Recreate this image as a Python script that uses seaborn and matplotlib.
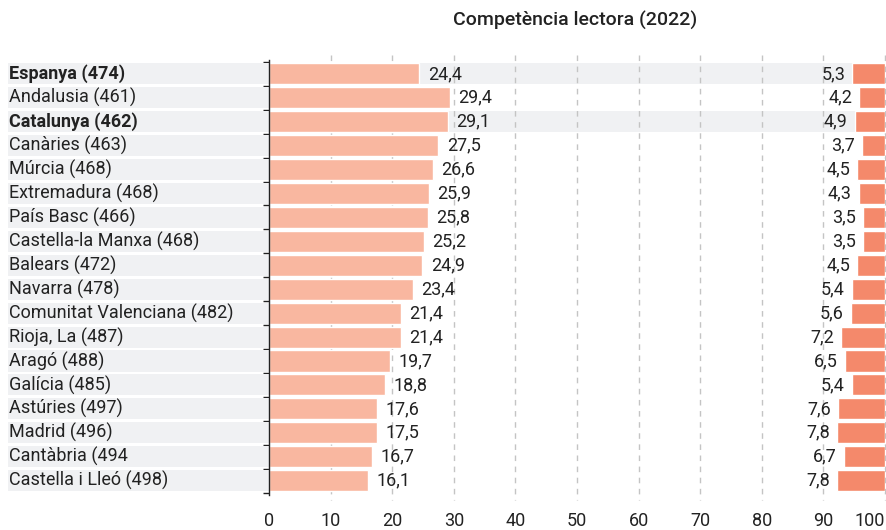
import matplotlib
matplotlib.use("Agg")
import matplotlib.pyplot as plt
import matplotlib.transforms as mtransforms
from matplotlib.patches import Rectangle
import seaborn as sns
import pandas as pd

regions = ["Espanya (474)", "Andalusia (461)", "Catalunya (462)", "Canàries (463)",
           "Múrcia (468)", "Extremadura (468)", "País Basc (466)", "Castella-la Manxa (468)",
           "Balears (472)", "Navarra (478)", "Comunitat Valenciana (482)", "Rioja, La (487)",
           "Aragó (488)", "Galícia (485)", "Astúries (497)", "Madrid (496)",
           "Cantàbria (494", "Castella i Lleó (498)"]
low_values = [24.4, 29.4, 29.1, 27.5, 26.6, 25.9, 25.8, 25.2, 24.9, 23.4, 21.4, 21.4,
              19.7, 18.8, 17.6, 17.5, 16.7, 16.1]
high_values = [5.3, 4.2, 4.9, 3.7, 4.5, 4.3, 3.5, 3.5, 4.5, 5.4, 5.6, 7.2,
               6.5, 5.4, 7.6, 7.8, 6.7, 7.8]
highlighted = ["Espanya (474)", "Catalunya (462)"]
x_ticks = [0, 10, 20, 30, 40, 50, 60, 70, 80, 90, 100]
title = "Competència lectora (2022)"

sns.set_theme(style="white")
plt.rcParams["font.family"] = ["Roboto", "DejaVu Sans"]

LIGHT = "#f9b7a0"
DARK = "#f4896b"
BAND = "#f0f1f3"
TXT = "#222222"
FS = 13

df = pd.DataFrame({"region": regions, "low": low_values, "high": high_values})

fig = plt.figure(figsize=(8.86, 5.3), dpi=100)
ax = fig.add_axes([269 / 886, 35 / 530, 616 / 886, 435 / 530])

sns.barplot(data=df, x="low", y="region", orient="h", color=LIGHT, width=0.88,
            saturation=1, ax=ax, zorder=3)
n_low = len(ax.patches)
sns.barplot(data=df, x="high", y="region", orient="h", color=DARK, width=0.88,
            saturation=1, ax=ax, zorder=3)
for patch, v in zip(ax.patches[n_low:], high_values):
    patch.set_x(100 - v)

ax.set_xlim(0, 100)
ax.set_ylim(len(regions) - 1 + 0.6, -0.58)

# background bands
trans = mtransforms.blended_transform_factory(ax.transAxes, ax.transData)
band_left = (8 - 269) / 616
for i, r in enumerate(regions):
    right = 1.0 if r in highlighted else 0.0
    ax.add_patch(Rectangle((band_left, i - 0.44), right - band_left, 0.88,
                           transform=trans, facecolor=BAND, edgecolor="none",
                           clip_on=False, zorder=1))
    ax.text(band_left + 0.002, i, r, transform=trans, ha="left", va="center",
            fontsize=FS, color=TXT, fontweight="bold" if r in highlighted else "normal",
            zorder=4)

# value labels
for i, (lv, hv) in enumerate(zip(low_values, high_values)):
    ax.annotate(f"{lv:.1f}".replace(".", ","), (lv, i), xytext=(6, 0),
                textcoords="offset points", ha="left", va="center",
                fontsize=FS, color=TXT, zorder=5)
    ax.annotate(f"{hv:.1f}".replace(".", ","), (100 - hv, i), xytext=(-5, 0),
                textcoords="offset points", ha="right", va="center",
                fontsize=FS, color=TXT, zorder=5)

# dashed gridlines
for t in x_ticks[1:]:
    ax.plot([t, t], [-0.78, len(regions) - 1 + 0.8], linestyle=(0, (4, 4)),
            color="#c4c4c4", linewidth=1, zorder=2, clip_on=False)

ax.set_xticks(x_ticks)
ax.set_xticklabels([str(t) for t in x_ticks], fontsize=FS, color=TXT)
ax.get_xticklabels()[-1].set_horizontalalignment("right")
ax.tick_params(axis="x", length=0, pad=12)
ax.set_yticks([i - 0.5 for i in range(len(regions) + 1)])
ax.set_yticklabels([])
ax.tick_params(axis="y", left=True, length=4, width=1, color="#222222")
ax.set_xlabel("")
ax.set_ylabel("")
for s in ["top", "right", "bottom"]:
    ax.spines[s].set_visible(False)
ax.spines["left"].set_color("#222222")
ax.spines["left"].set_linewidth(1)
ax.spines["left"].set_zorder(6)

fig.text(575 / 886, 1 - 20 / 530, title, ha="center", va="center", fontsize=14,
         color=TXT, fontweight="medium")

fig.savefig("out.png", dpi=100)
